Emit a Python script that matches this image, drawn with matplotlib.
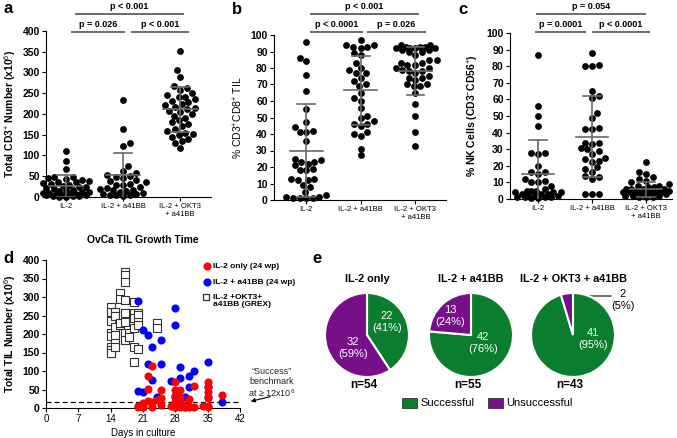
import numpy as np
import matplotlib
matplotlib.use("Agg")
import matplotlib.pyplot as plt
from matplotlib.lines import Line2D

W, H = 677, 438
plt.rcParams['font.family'] = ['Liberation Sans', 'DejaVu Sans']
plt.rcParams['mathtext.fontset'] = 'custom'
plt.rcParams['mathtext.rm'] = 'Liberation Sans'
plt.rcParams['mathtext.bf'] = 'Liberation Sans:bold'

# ---- data: panels a-c (dot plots) ----
cats = ["IL-2", "IL-2 + a41BB", "IL-2 + OKT3\n+ a41BB"]

a_il2 = [110, 87, 68, 48, 47, 46, 44, 40, 38, 36, 35, 33, 31, 29, 27, 25, 24, 22, 20, 18,
         16, 15, 13, 12, 10, 9, 8, 7, 6, 5, 5, 4, 3, 2, 2, 1, 1]
a_bb = [233, 163, 130, 122, 75, 62, 58, 52, 50, 47, 45, 40, 38, 35, 32, 30, 28, 25, 22, 20,
        18, 16, 14, 12, 10, 8, 7, 6, 5, 4, 3]
a_okt = [352, 305, 290, 268, 262, 258, 250, 245, 242, 240, 235, 232, 228, 225, 222, 218, 215,
         212, 208, 205, 200, 196, 190, 185, 180, 175, 170, 165, 158, 155, 153, 150, 145, 140,
         135, 130, 118]
a_mean = [27, 53, 211]
a_sd = [26, 54, 54]

b_il2 = [96, 86, 84, 76, 66, 55, 47, 44, 42, 41, 41, 36, 25, 24, 23, 23, 22, 21, 19, 18, 18,
         13, 13, 12, 12, 9, 8, 5, 3, 2, 2, 1, 1, 1, 1]
b_bb = [97, 94, 94, 93, 93, 92, 89, 88, 83, 80, 79, 77, 77, 74, 72, 70, 69, 65, 62, 60, 56,
        51, 50, 48, 46, 46, 45, 41, 40, 39, 31, 27]
b_okt = [94, 94, 93, 93, 93, 92, 92, 92, 92, 91, 91, 90, 90, 88, 85, 85, 83, 83, 82, 82, 80,
         80, 79, 78, 78, 77, 75, 74, 74, 73, 70, 70, 69, 69, 65, 58, 51, 41, 33]
b_mean = [30, 66.5, 78]
b_sd = [28, 21, 14.5]

c_il2 = [87, 56, 50, 44, 28, 28, 27, 20, 16, 16, 15, 12, 11, 10, 10, 8, 6, 5, 5, 5, 4, 4, 4,
         3, 3, 3, 2, 2, 2, 1, 1, 1, 1, 0.5, 0.5]
c_bb = [88, 81, 80, 80, 65, 62, 61, 52, 49, 43, 42, 42, 34, 34, 33, 31, 30, 29, 27, 25, 24,
        23, 22, 19, 18, 16, 14, 13, 12, 3, 3, 3]
c_okt = [22, 16, 15, 13, 12, 11, 10, 9, 8, 8, 7, 7, 6, 6, 6, 5, 5, 5, 5, 5, 4, 4, 4, 4, 3, 3,
         3, 3, 2, 2, 2, 1, 1, 1, 5, 6]
c_mean = [15.3, 37.5, 5.8]
c_sd = [20.2, 24.3, 4.5]

# ---- data: panel d (growth time) ----
okt_day = [14, 14, 14, 14, 14, 14, 14, 14, 15, 15, 15, 15, 15, 15, 16, 16, 16, 16,
           17, 17, 17, 17, 17, 17, 17, 17, 18, 18, 19, 19, 19, 19, 19, 19,
           20, 20, 20, 20, 20, 24, 24]
okt_val = [274, 260, 236, 202, 195, 166, 157, 150, 260, 249, 220, 197, 175, 166, 310, 294, 224, 230,
           368, 359, 341, 292, 256, 233, 202, 184, 202, 193, 287, 256, 242, 215, 166, 124,
           256, 251, 233, 224, 160, 229, 215]
bb_day = [20, 21, 22, 23, 25, 22, 23, 20, 21, 25, 28, 28, 29, 29, 27, 31, 32, 31, 35, 35, 38,
          24, 28, 30, 35]
bb_val = [290, 211, 197, 164, 184, 118, 77, 47, 44, 118, 269, 224, 112, 80, 73, 87, 101, 56, 124,
          58, 15, 30, 33, 30, 30]
il2_day = [23, 22, 22, 21, 20, 25, 25, 25, 23, 21, 28, 28, 29, 29, 28, 31, 32, 35, 35, 35, 35,
           38, 31, 30, 27, 28, 29, 34, 35, 23, 21, 22, 24, 28, 29, 30,
           20, 28, 28, 29, 30, 31, 32, 35]
il2_val = [114, 87, 51, 13, 5, 49, 27, 9, 15, 3, 69, 49, 49, 31, 31, 24, 60, 69, 58, 42, 27,
           35, 5, 6, 6, 9, 9, 6, 5, 3, 3, 20, 22, 15, 18, 3,
           2, 2, 4, 2, 2, 2, 4, 2]
benchmark = 15

# ---- data: panel e (pies) ----
pie_titles = ["IL-2 only", "IL-2 + a41BB", "IL-2 + OKT3 + a41BB"]
pie_success = [22, 42, 41]
pie_fail = [32, 13, 2]

GREEN = '#0b7d2e'
PURPLE = '#770f8b'
GREY = '#6a6a6a'


def fx(x):
    return x / W


def fy(y):
    return 1 - y / H


fig = plt.figure(figsize=(W / 100, H / 100), dpi=100)


def add_ax(l, t, r, b):
    return fig.add_axes([fx(l), fy(b), (r - l) / W, (b - t) / H])


def swarm_x(vals, pos, ax, diam=6.6, maxw=24):
    # simple beeswarm in pixel space, capped width (points may overlap at the cap)
    p = ax.get_position()
    x0, x1 = ax.get_xlim()
    y0, y1 = ax.get_ylim()
    sx = p.width * W / (x1 - x0)
    sy = p.height * H / (y1 - y0)
    vals = np.asarray(vals, float)
    offs = np.zeros(len(vals))
    placed = []
    step = diam * 0.25
    kmax = int(maxw / step)
    for n, i in enumerate(np.argsort(vals)):
        y = vals[i] * sy
        sgn = 1 if n % 2 == 0 else -1
        cands = [0.0] + [s * k * step for k in range(1, kmax + 1) for s in (sgn, -sgn)]
        best, bestd = 0.0, -1
        for o in cands:
            d = min([((o - a) ** 2 + (y - b) ** 2) ** 0.5 for a, b in placed] or [99])
            if d >= diam:
                best = o
                break
            if d > bestd:
                best, bestd = o, d
        placed.append((best, y))
        offs[i] = best
    return pos + offs / sx


def dot_panel(ax, groups, means, sds, ymax, ystep, xlim):
    ax.set_xlim(xlim)
    ax.set_ylim(0, ymax)
    for k, g in enumerate(groups):
        xs = swarm_x(g, k, ax)
        ax.scatter(xs, g, s=24, color='black', zorder=2, clip_on=False, linewidths=0)
        m, s = means[k], sds[k]
        ax.plot([k - 0.3, k + 0.3], [m, m], color=GREY, lw=1.2, zorder=3)
        ax.plot([k - 0.16, k + 0.16], [m + s, m + s], color=GREY, lw=1.2, zorder=3)
        if m - s > 0:
            ax.plot([k - 0.16, k + 0.16], [m - s, m - s], color=GREY, lw=1.2, zorder=3)
        ax.plot([k, k], [max(m - s, 0), m + s], color=GREY, lw=1.2, zorder=3)
    ax.set_xticks([0, 1, 2])
    ax.set_xticklabels(cats, fontsize=5.5)
    ax.set_yticks(np.arange(0, ymax + 1, ystep))
    for t in ax.get_yticklabels():
        t.set_fontweight('bold')
        t.set_fontsize(7.5)
    ax.tick_params(length=3, width=0.8, pad=1.5)
    for sp in ['top', 'right']:
        ax.spines[sp].set_visible(False)


def bracket(x1, x2, y, label):
    fig.add_artist(Line2D([fx(x1), fx(x2)], [fy(y), fy(y)], color=GREY, lw=1.4))
    fig.text(fx((x1 + x2) / 2), fy(y - 3), label, ha='center', va='bottom',
             fontsize=6.5, fontweight='bold')


# panel a
ax_a = add_ax(46, 31, 211, 197)
dot_panel(ax_a, [a_il2, a_bb, a_okt], a_mean, a_sd, 400, 50, (-0.35, 2.54))
ax_a.set_ylabel("Total CD3$^{+}$ Number (x10$^{6}$)", fontsize=7.5, fontweight='bold', labelpad=3)
bracket(76, 183, 14, "p < 0.001")
bracket(72, 124, 32, "p = 0.026")
bracket(132, 188, 32, "p < 0.001")
fig.text(fx(3), fy(1), "a", fontsize=12, fontweight='bold', va='top')

# panel b
ax_b = add_ax(274, 35, 446, 200)
dot_panel(ax_b, [b_il2, b_bb, b_okt], b_mean, b_sd, 100, 10, (-0.59, 2.56))
ax_b.set_ylabel("% CD3$^{+}$CD8$^{+}$ TIL", fontsize=7.5, labelpad=4)
bracket(311, 418, 14, "p < 0.001")
bracket(311, 362, 32, "p < 0.0001")
bracket(368, 425, 32, "p = 0.026")
fig.text(fx(232), fy(2), "b", fontsize=12, fontweight='bold', va='top')

# panel c
ax_c = add_ax(510, 33, 672, 199)
dot_panel(ax_c, [c_il2, c_bb, c_okt], c_mean, c_sd, 100, 10, (-0.52, 2.48))
ax_c.set_ylabel("% NK Cells (CD3$^{-}$CD56$^{+}$)", fontsize=7.5, fontweight='bold', labelpad=4)
bracket(537, 645, 14, "p = 0.054")
bracket(536, 585, 32, "p = 0.0001")
bracket(593, 649, 32, "p < 0.0001")
fig.text(fx(458), fy(2), "c", fontsize=12, fontweight='bold', va='top')

# panel d
ax_d = add_ax(46, 260, 240, 408)
ax_d.scatter(okt_day, okt_val, marker='s', s=30, facecolors='white', edgecolors='#333333',
             linewidths=0.8, zorder=2)
ax_d.scatter(bb_day, bb_val, s=34, color='#0000ff', linewidths=0, zorder=3, clip_on=False)
ax_d.scatter(il2_day, il2_val, s=34, color='#ff0000', linewidths=0, zorder=4, clip_on=False)
ax_d.axhline(benchmark, color='black', lw=0.9, ls=(0, (4, 2.5)), zorder=1)
ax_d.set_xlim(0, 42)
ax_d.set_ylim(0, 400)
ax_d.set_xticks(np.arange(0, 43, 7))
ax_d.set_yticks(np.arange(0, 401, 50))
for t in ax_d.get_yticklabels():
    t.set_fontweight('bold')
    t.set_fontsize(7.5)
for t in ax_d.get_xticklabels():
    t.set_fontsize(7)
ax_d.tick_params(length=3, width=0.8, pad=1.5)
for sp in ['top', 'right']:
    ax_d.spines[sp].set_visible(False)
ax_d.set_ylabel("Total TIL Number (x10$^{6}$)", fontsize=7.5, fontweight='bold', labelpad=3)
ax_d.set_xlabel("Days in culture", fontsize=7, labelpad=3)
fig.text(fx(143), fy(240), "OvCa TIL Growth Time", ha='center', va='center',
         fontsize=7.5, fontweight='bold')
fig.text(fx(3), fy(251), "d", fontsize=12, fontweight='bold', va='top')

# legend d
leg_ax = fig.add_axes([0, 0, 1, 1], facecolor='none')
leg_ax.set_xlim(0, W)
leg_ax.set_ylim(H, 0)
leg_ax.axis('off')
leg_ax.scatter([207], [266], s=34, color='#ff0000', linewidths=0)
leg_ax.scatter([207], [282], s=34, color='#0000ff', linewidths=0)
leg_ax.scatter([206], [297], marker='s', s=14, facecolors='white', edgecolors='#333333',
               linewidths=0.9)
leg_ax.text(213, 266, "IL-2 only (24 wp)", fontsize=6, fontweight='bold', va='center')
leg_ax.text(213, 282, "IL-2 + a41BB (24 wp)", fontsize=6, fontweight='bold', va='center')
leg_ax.text(213, 301, "IL-2 +OKT3+\na41BB (GREX)", fontsize=6, fontweight='bold', va='center',
            linespacing=1.1)
leg_ax.text(272, 383, "\u201cSuccess\u201d\nbenchmark\nat \u2265 12x10$^{6}$", fontsize=6.5,
            ha='center', va='center', linespacing=1.15, color='#222222')
leg_ax.annotate("", xy=(248, 402), xytext=(273, 396),
                arrowprops=dict(arrowstyle='-|>', color='black', lw=0.8, mutation_scale=6))

# panel e: pies
pie_ax = fig.add_axes([fx(300), 0, (W - 300) / W, 198 / H])
centers = [(367, 438 - 335), (471, 438 - 335), (573, 438 - 335)]
for k in range(3):
    cx, cy = centers[k]
    tot = pie_success[k] + pie_fail[k]
    pie_ax.pie([pie_success[k], pie_fail[k]], colors=[GREEN, PURPLE], startangle=90,
               counterclock=False, center=(cx, cy), radius=42, frame=True,
               wedgeprops=dict(edgecolor='white', linewidth=1.5))
    fig.text(fx(cx), fy(279), pie_titles[k], ha='center', va='center', fontsize=7.8,
             fontweight='bold')
    fig.text(fx(cx - 3), fy(385), "n=%d" % tot, ha='center', va='center', fontsize=8.5,
             fontweight='bold')
pie_ax.set_xlim(300, W)
pie_ax.set_ylim(0, 198)
pie_ax.set_aspect('equal')
pie_ax.axis('off')

inside = [(387, 322, 0, 0), (353, 348, 0, 1), (483, 343, 1, 0), (450, 316, 1, 1), (593, 339, 2, 0)]
for x, y, k, j in inside:
    n = pie_success[k] if j == 0 else pie_fail[k]
    tot = pie_success[k] + pie_fail[k]
    fig.text(fx(x), fy(y), "%d\n(%d%%)" % (n, round(100 * n / tot)), ha='center', va='center',
             fontsize=8, color='white', linespacing=1.3)
fig.text(fx(623), fy(300), "%d\n(%d%%)" % (pie_fail[2], round(100 * pie_fail[2] /
         (pie_success[2] + pie_fail[2]))), ha='center', va='center', fontsize=8, linespacing=1.3)
leg_ax.annotate("", xy=(567, 296), xytext=(614, 296),
                arrowprops=dict(arrowstyle='-|>', color='black', lw=0.8, mutation_scale=6))
fig.text(fx(312), fy(251), "e", fontsize=12, fontweight='bold', va='top')

# legend e
leg_ax.add_patch(plt.Rectangle((402, 398), 15, 10, facecolor=GREEN, edgecolor='#333333', lw=0.6))
leg_ax.add_patch(plt.Rectangle((488, 398), 15, 10, facecolor=PURPLE, edgecolor='#333333', lw=0.6))
leg_ax.text(420, 403, "Successful", fontsize=8, va='center')
leg_ax.text(506, 403, "Unsuccessful", fontsize=8, va='center')

fig.savefig("out.png", dpi=100)
